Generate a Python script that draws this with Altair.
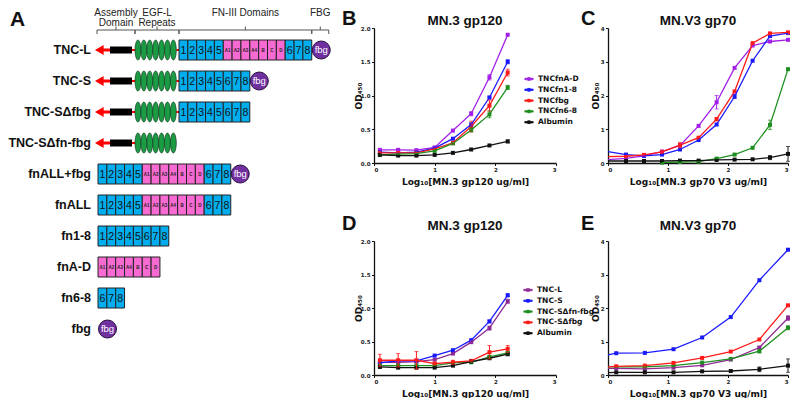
import altair as alt
import pandas as pd

# ---------------- Panel A: construct diagram (structure) ----------------
constructs = ["TNC-L", "TNC-S", "TNC-SΔfbg", "TNC-SΔfn-fbg", "fnALL+fbg",
              "fnALL", "fn1-8", "fnA-D", "fn6-8", "fbg"]
fn_all = ["1", "2", "3", "4", "5", "A1", "A2", "A3", "A4", "B", "C", "D", "6", "7", "8"]
fn_1_8 = ["1", "2", "3", "4", "5", "6", "7", "8"]
fn_a_d = ["A1", "A2", "A3", "A4", "B", "C", "D"]
fn_6_8 = ["6", "7", "8"]
construct_fn = [fn_all, fn_1_8, fn_1_8, [], fn_all, fn_all, fn_1_8, fn_a_d, fn_6_8, []]
construct_head = [True, True, True, True, False, False, False, False, False, False]
construct_fbg = [True, True, False, False, True, False, False, False, False, True]
egf_repeats = 7
header_lines = [["Assembly", "Domain"], ["EGF-L", "Repeats"], ["FN-III Domains"], ["FBG"]]

# ---------------- Panels B-E: ELISA data ----------------
x_gp120 = [0.097, 0.398, 0.699, 1.0, 1.301, 1.602, 1.903, 2.204]
x_gp70_c = [0.0, 0.30, 0.60, 0.90, 1.20, 1.51, 1.81, 2.11, 2.41, 2.70, 3.00]
x_gp70_e = [0.0, 0.137, 0.614, 1.092, 1.569, 2.046, 2.523, 3.0]

names_frag = ["TNCfnA-D", "TNCfn1-8", "TNCfbg", "TNCfn6-8", "Albumin"]
colors_frag = ["#a21fe8", "#1a1aff", "#ff1a1a", "#1f8f1f", "#111111"]
names_full = ["TNC-L", "TNC-S", "TNC-SΔfn-fbg", "TNC-SΔfbg", "Albumin"]
colors_full = ["#8e2a94", "#1a1aff", "#1f8f1f", "#ff1a1a", "#111111"]

b_fnAD = [0.195, 0.195, 0.19, 0.23, 0.48, 0.73, 1.27, 1.90]
b_fn18 = [0.16, 0.15, 0.16, 0.22, 0.36, 0.57, 0.97, 1.50]
b_fbg = [0.15, 0.15, 0.15, 0.21, 0.30, 0.54, 0.85, 1.34]
b_fn68 = [0.12, 0.13, 0.14, 0.18, 0.29, 0.49, 0.72, 1.12]
b_alb = [0.12, 0.11, 0.11, 0.12, 0.15, 0.20, 0.26, 0.32]
b_fnAD_err = [0, 0, 0, 0, 0, 0.03, 0.04, 0]
b_fn18_err = [0, 0, 0, 0, 0, 0.02, 0.02, 0.03]
b_fbg_err = [0, 0, 0, 0, 0.02, 0.08, 0.08, 0.05]
b_fn68_err = [0, 0, 0, 0, 0.01, 0.03, 0.05, 0.03]
b_alb_err = [0, 0, 0, 0, 0, 0, 0, 0.02]

c_fnAD = [0.10, 0.135, 0.21, 0.34, 0.52, 1.10, 1.80, 2.82, 3.48, 3.60, 3.65]
c_fn18 = [0.34, 0.25, 0.21, 0.25, 0.40, 0.68, 1.14, 1.97, 3.03, 3.76, 3.85]
c_fbg = [0.19, 0.20, 0.24, 0.33, 0.53, 0.75, 1.30, 2.12, 3.55, 3.84, 3.87]
c_fn68 = [None, None, None, 0.01, 0.03, 0.04, 0.13, 0.25, 0.45, 1.13, 2.78]
c_alb = [0.06, 0.06, 0.06, 0.06, 0.07, 0.07, 0.09, 0.10, 0.11, 0.16, 0.27]
c_fnAD_err = [0, 0, 0, 0, 0, 0, 0.2, 0, 0, 0, 0]
c_fn18_err = [0, 0, 0, 0, 0, 0, 0, 0.06, 0, 0, 0]
c_fbg_err = [0, 0, 0, 0, 0.08, 0, 0.05, 0, 0, 0, 0]
c_fn68_err = [0, 0, 0, 0, 0, 0, 0, 0.03, 0, 0.14, 0]
c_alb_err = [0, 0, 0, 0, 0, 0, 0, 0, 0, 0.06, 0.22]

d_L = [0.19, 0.19, 0.20, 0.23, 0.32, 0.49, 0.70, 1.10]
d_S = [0.18, 0.21, 0.21, 0.29, 0.37, 0.52, 0.80, 1.19]
d_fnfbg = [0.14, 0.14, 0.14, 0.14, 0.18, 0.19, 0.27, 0.33]
d_fbg = [0.22, 0.22, 0.22, 0.17, 0.19, 0.21, 0.34, 0.39]
d_alb = [0.12, 0.11, 0.11, 0.11, 0.14, 0.20, 0.25, 0.31]
d_L_err = [0, 0, 0, 0, 0, 0.02, 0.03, 0.03]
d_S_err = [0, 0, 0, 0, 0, 0, 0.02, 0.02]
d_fnfbg_err = [0, 0, 0, 0, 0, 0, 0.02, 0.02]
d_fbg_err = [0.09, 0.10, 0.13, 0.02, 0.03, 0.01, 0.10, 0.05]
d_alb_err = [0, 0, 0, 0, 0, 0, 0, 0.01]

e_L = [0.20, 0.20, 0.18, 0.22, 0.29, 0.46, 0.82, 1.70]
e_S = [0.60, 0.65, 0.66, 0.77, 1.12, 1.73, 2.83, 3.74]
e_fnfbg = [0.25, 0.24, 0.24, 0.28, 0.37, 0.48, 0.71, 1.41]
e_fbg = [0.24, 0.26, 0.28, 0.36, 0.51, 0.70, 1.06, 2.08]
e_alb = [0.07, 0.08, 0.08, 0.08, 0.11, 0.12, 0.17, 0.28]
e_L_err = [0, 0, 0, 0, 0, 0, 0.03, 0.07]
e_S_err = [0, 0, 0, 0, 0, 0, 0, 0]
e_fnfbg_err = [0, 0, 0, 0, 0, 0, 0.05, 0.06]
e_fbg_err = [0, 0, 0, 0, 0, 0, 0, 0]
e_alb_err = [0, 0, 0, 0, 0, 0, 0.07, 0.2]

# ---------------- layout / style ----------------
FONT = "Liberation Sans"
AXFONT = "DejaVu Sans"
WA, W1, W2 = 314, 182, 180
H1, H2 = 135, 134
TOP1 = 28
ROWGAP, COLGAP = 78, 52
BLUE, PINK, GREEN, PURPLE, RED = "#00aeef", "#f76ad2", "#1c9b45", "#7030a0", "#ff0000"
ELLIPSE = ("M0,-1 C0.16,-1 0.29,-0.55 0.29,0 C0.29,0.55 0.16,1 0,1 "
           "C-0.16,1 -0.29,0.55 -0.29,0 C-0.29,-0.55 -0.16,-1 0,-1 Z")
LEG_SYM = ("M-1,-0.17L1,-0.17L1,0.17L-1,0.17Z "
           "M-0.32,-0.32L0.32,-0.32L0.32,0.32L-0.32,0.32Z")

# diagram geometry
row_y0, row_step = 50, 31
lab_right, tip = 91, 95
shaft_end, bar_end = 110, 132
egf_x0, egf_w = 135, 5.9
fn_x0_full, fn_x0_frag = 179, 98
box_w, box_h, fbg_d = 8.85, 20, 18


def AX(f):
    return alt.X(f, scale=alt.Scale(domain=[8, 8 + WA], nice=False, zero=False), axis=None)


def AY(f):
    return alt.Y(f, scale=alt.Scale(domain=[TOP1, TOP1 + H1], nice=False, zero=False,
                                    reverse=True), axis=None)


labels, heads, shafts, bars, conns, ells, boxes, fbgs = [], [], [], [], [], [], [], []
for i, name in enumerate(constructs):
    y = row_y0 + i * row_step
    labels.append(dict(x=lab_right, y=y, t=name))
    fn = construct_fn[i]
    if construct_head[i]:
        heads.append(dict(x=tip + 4.3, y=y))
        shafts.append(dict(x=tip + 6, x2=shaft_end, y=y))
        bars.append(dict(x=shaft_end, x2=bar_end, y=y - 3.5, y2=y + 3.5))
        conns.append(dict(x=bar_end, x2=egf_x0, y=y))
        for k in range(egf_repeats):
            ells.append(dict(x=egf_x0 + egf_w * (k + 0.5), y=y))
        x0 = fn_x0_full
        if fn:
            conns.append(dict(x=egf_x0 + egf_repeats * egf_w, x2=x0, y=y))
    else:
        x0 = fn_x0_frag
    for k, d in enumerate(fn):
        small = d[0] in "ABCD"
        boxes.append(dict(x=x0 + k * box_w, x2=x0 + (k + 1) * box_w,
                          y=y - box_h / 2, y2=y + box_h / 2,
                          xc=x0 + (k + 0.5) * box_w, yc=y + 0.5, t=d,
                          c=PINK if small else BLUE, small=small))
    if construct_fbg[i]:
        fbgs.append(dict(x=x0 + len(fn) * box_w + fbg_d / 2 + 0.5, y=y, t="fbg"))

fn_end = fn_x0_full + len(fn_all) * box_w
spans = [(fn_x0_frag - 1, egf_x0), (egf_x0, fn_x0_full), (fn_x0_full, fn_end),
         (fn_end, fn_end + fbg_d - 1)]
hdr, braces = [], []
yb = 30
for (a, b), lines in zip(spans, header_lines):
    m = (a + b) / 2
    for j, ln in enumerate(lines):
        hdr.append(dict(x=m, y=13 + 10 * j, t=ln))
    braces += [dict(x=a, x2=b, y=yb, y2=yb), dict(x=a, x2=a, y=yb, y2=yb + 4),
               dict(x=b, x2=b, y=yb, y2=yb + 4), dict(x=m, x2=m, y=yb - 3.5, y2=yb)]

A_layers = [
    alt.Chart(pd.DataFrame(hdr)).mark_text(font=FONT, fontSize=10, color="#222")
    .encode(x=AX("x:Q"), y=AY("y:Q"), text="t:N"),
    alt.Chart(pd.DataFrame(braces)).mark_rule(color="#555", strokeWidth=1)
    .encode(x=AX("x:Q"), x2="x2:Q", y=AY("y:Q"), y2="y2:Q"),
    alt.Chart(pd.DataFrame(labels)).mark_text(font=FONT, fontSize=12.5, fontWeight="bold",
                                             align="right", color="#111")
    .encode(x=AX("x:Q"), y=AY("y:Q"), text="t:N"),
    alt.Chart(pd.DataFrame(shafts)).mark_rule(color=RED, strokeWidth=3)
    .encode(x=AX("x:Q"), x2="x2:Q", y=AY("y:Q")),
    alt.Chart(pd.DataFrame(heads)).mark_point(shape="triangle-left", filled=True, color=RED,
                                             size=100, opacity=1)
    .encode(x=AX("x:Q"), y=AY("y:Q")),
    alt.Chart(pd.DataFrame(conns)).mark_rule(color=RED, strokeWidth=2)
    .encode(x=AX("x:Q"), x2="x2:Q", y=AY("y:Q")),
    alt.Chart(pd.DataFrame(bars)).mark_rect(color="#000")
    .encode(x=AX("x:Q"), x2="x2:Q", y=AY("y:Q"), y2="y2:Q"),
    alt.Chart(pd.DataFrame(ells)).mark_point(shape=ELLIPSE, size=400, fill=GREEN,
                                            stroke="#0d3b1c", strokeWidth=0.7,
                                            opacity=1, fillOpacity=1)
    .encode(x=AX("x:Q"), y=AY("y:Q")),
    alt.Chart(pd.DataFrame(boxes)).mark_rect(stroke="#222", strokeWidth=1)
    .encode(x=AX("x:Q"), x2="x2:Q", y=AY("y:Q"), y2="y2:Q", fill=alt.Fill("c:N", scale=None)),
    alt.Chart(pd.DataFrame(boxes)).transform_filter("!datum.small")
    .mark_text(font=FONT, fontSize=10.5, color="#111")
    .encode(x=AX("xc:Q"), y=AY("yc:Q"), text="t:N"),
    alt.Chart(pd.DataFrame(boxes)).transform_filter("datum.small")
    .mark_text(font=FONT, fontSize=4.5, fontWeight="bold", color="#222")
    .encode(x=AX("xc:Q"), y=AY("yc:Q"), text="t:N"),
    alt.Chart(pd.DataFrame(fbgs)).mark_point(shape="circle", size=324, fill=PURPLE,
                                            stroke="#2a1040", strokeWidth=1, opacity=1,
                                            fillOpacity=1)
    .encode(x=AX("x:Q"), y=AY("y:Q")),
    alt.Chart(pd.DataFrame(fbgs)).mark_text(font=FONT, fontSize=9.5, color="white")
    .encode(x=AX("x:Q"), y=AY("y:Q"), text="t:N"),
    alt.Chart(pd.DataFrame({"t": ["A"]})).mark_text(font=FONT, fontSize=21, fontWeight="bold",
                                                    align="left", baseline="middle",
                                                    color="#111")
    .encode(text="t:N", x=alt.value(2), y=alt.value(-8)),
]
panelA = alt.layer(*A_layers).properties(width=WA, height=H1)


def line_panel(xs, names, colors, vals, errs, ymax, yvals, yfmt, title, letter, xtitle,
               w, h, legend_pos, title_dy, letter_dx, ytitle_x):
    rows = []
    for nm, v, e in zip(names, vals, errs):
        for xi, yi, ei in zip(xs, v, e):
            if yi is None:
                continue
            rows.append(dict(x=xi, y=yi, s=nm, lo=yi - ei, hi=yi + ei, err=ei, mk=xi > 0))
    df = pd.DataFrame(rows)
    edf = df[df["err"] > 0]
    if legend_pos is None:
        leg = None
    else:
        leg = alt.Legend(orient="none", legendX=legend_pos[0], legendY=legend_pos[1],
                         title=None, symbolType=LEG_SYM, symbolSize=70, symbolStrokeWidth=0.8,
                         labelFont=AXFONT, labelFontSize=7.5, labelFontWeight="bold",
                         labelColor="#111", rowPadding=1.8, padding=0, labelOffset=4,
                         symbolOpacity=1)
    color = alt.Color("s:N", scale=alt.Scale(domain=names, range=colors), legend=leg)
    xaxis = alt.Axis(values=[0, 1, 2, 3], format="d", title=xtitle, titleX=w / 2,
                     titleY=18, titleBaseline="middle", titleAlign="center")
    yaxis = alt.Axis(values=yvals, format=yfmt, title="OD₄₅₀", titleX=ytitle_x,
                     titleY=h / 2, titleBaseline="middle", titleAlign="center")

    def X(f):
        return alt.X(f, scale=alt.Scale(domain=[0, 3], nice=False, zero=False), axis=xaxis)

    def Y(f):
        return alt.Y(f, scale=alt.Scale(domain=[0, ymax], nice=False, zero=False), axis=yaxis)

    pts = alt.Chart(df).transform_filter("datum.mk").mark_point(
        shape="square", filled=True, size=16, opacity=1).encode(x=X("x:Q"), y=Y("y:Q"), color=color)
    line = alt.Chart(df).mark_line(strokeWidth=1.3).encode(x=X("x:Q"), y=Y("y:Q"), color=color)
    rule = alt.Chart(edf).mark_rule(strokeWidth=1).encode(
        x=X("x:Q"), y=Y("lo:Q"), y2="hi:Q", color=color)
    cap_lo = alt.Chart(edf).mark_tick(orient="horizontal", size=4, thickness=1).encode(
        x=X("x:Q"), y=Y("lo:Q"), color=color)
    cap_hi = alt.Chart(edf).mark_tick(orient="horizontal", size=4, thickness=1).encode(
        x=X("x:Q"), y=Y("hi:Q"), color=color)
    ttl = alt.Chart(pd.DataFrame({"t": [title]})).mark_text(
        font=FONT, fontSize=13.5, fontWeight="bold", align="center", baseline="middle",
        color="#111").encode(text="t:N", x=alt.value(w / 2), y=alt.value(title_dy))
    let = alt.Chart(pd.DataFrame({"t": [letter]})).mark_text(
        font=FONT, fontSize=20, fontWeight="bold", align="left", baseline="middle",
        color="#111").encode(text="t:N", x=alt.value(letter_dx), y=alt.value(title_dy - 2))
    return alt.layer(pts, line, rule, cap_lo, cap_hi, ttl, let).properties(width=w, height=h)


panelB = line_panel(x_gp120, names_frag, colors_frag,
                    [b_fnAD, b_fn18, b_fbg, b_fn68, b_alb],
                    [b_fnAD_err, b_fn18_err, b_fbg_err, b_fn68_err, b_alb_err],
                    2.0, [0, 0.5, 1.0, 1.5, 2.0], ".1f", "MN.3 gp120", "B",
                    "Log₁₀[MN.3 gp120 ug/ml]", W1, H1, (150, 46), -7, -32, -16)
panelC = line_panel(x_gp70_c, names_frag, colors_frag,
                    [c_fnAD, c_fn18, c_fbg, c_fn68, c_alb],
                    [c_fnAD_err, c_fn18_err, c_fbg_err, c_fn68_err, c_alb_err],
                    4.0, [0, 1, 2, 3, 4], "d", "MN.V3 gp70", "C",
                    "Log₁₀[MN.3 gp70 V3 ug/ml]", W2, H1, None, -7, -27, -13)
panelD = line_panel(x_gp120, names_full, colors_full,
                    [d_L, d_S, d_fnfbg, d_fbg, d_alb],
                    [d_L_err, d_S_err, d_fnfbg_err, d_fbg_err, d_alb_err],
                    2.0, [0, 0.5, 1.0, 1.5, 2.0], ".1f", "MN.3 gp120", "D",
                    "Log₁₀[MN.3 gp120 ug/ml]", W1, H2, (149, 44), -15, -32, -16)
panelE = line_panel(x_gp70_e, names_full, colors_full,
                    [e_L, e_S, e_fnfbg, e_fbg, e_alb],
                    [e_L_err, e_S_err, e_fnfbg_err, e_fbg_err, e_alb_err],
                    4.0, [0, 1, 2, 3, 4], "d", "MN.V3 gp70", "E",
                    "Log₁₀[MN.3 gp70 V3 ug/ml]", W2, H2, None, -15, -27, -13)

blank = alt.Chart(pd.DataFrame({"v": [0]})).mark_point(opacity=0).encode(
    x=alt.X("v:Q", axis=None), y=alt.Y("v:Q", axis=None)).properties(width=WA, height=H2)

chart = alt.concat(panelA, panelB, panelC, blank, panelD, panelE, columns=3,
                   spacing={"row": ROWGAP, "column": COLGAP}, bounds="flush") \
    .resolve_scale(color="independent") \
    .properties(padding=0) \
    .configure_view(stroke=None) \
    .configure_axis(domainColor="#111", domainWidth=1.3, tickColor="#111", tickWidth=1,
                    tickSize=2.5, labelFont=AXFONT, labelFontSize=5.5, labelFontWeight="bold",
                    labelColor="#222", labelPadding=1.5, titleFont=AXFONT, titleFontSize=9,
                    titleFontWeight="bold", titleColor="#111", grid=False)

chart.save("out.html", embed_options={"renderer": "svg", "actions": False})
